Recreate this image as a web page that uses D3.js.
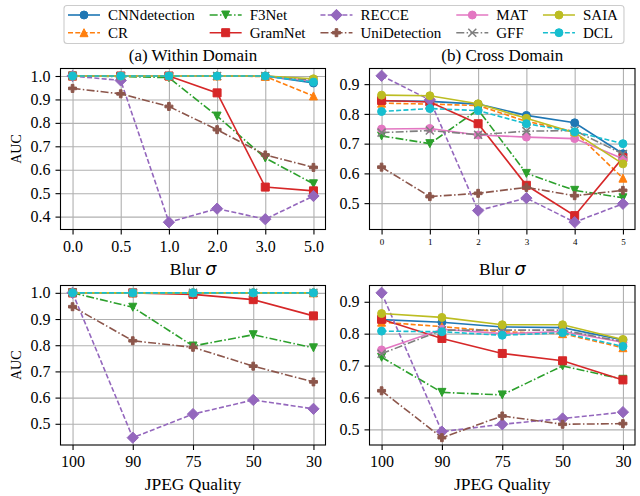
<!DOCTYPE html>
<html>
<head>
<meta charset="utf-8">
<script src="https://cdn.jsdelivr.net/npm/d3@7"></script>
<style>
  body { margin: 0; background: #fff; }
  text { font-family: "Liberation Serif", "Times New Roman", serif; fill: #000; }
</style>
</head>
<body>
<script>

// methods, in legend order
const methods = ['CNNdetection', 'CR', 'F3Net', 'GramNet', 'RECCE', 'UniDetection', 'MAT', 'GFF', 'SAIA', 'DCL'];

// tick labels of the x axes
const blurLabels = ['0.0', '0.5', '1.0', '2.0', '3.0', '5.0'];
const blurLabelsCross = ['0', '1', '2', '3', '4', '5'];
const jpegLabels = ['100', '90', '75', '50', '30'];

// AUC values, one row per method (same order as methods)
const blurWithin = [
  [1.000, 1.000, 1.000, 1.000, 1.000, 0.970],
  [1.000, 1.000, 1.000, 1.000, 0.998, 0.915],
  [1.000, 0.998, 0.993, 0.829, 0.650, 0.540],
  [1.000, 1.000, 1.000, 0.928, 0.526, 0.510],
  [1.000, 0.981, 0.376, 0.434, 0.389, 0.488],
  [0.947, 0.924, 0.870, 0.771, 0.663, 0.610],
  [1.000, 1.000, 1.000, 1.000, 1.000, 0.978],
  [1.000, 1.000, 1.000, 1.000, 1.000, 0.982],
  [1.000, 1.000, 1.000, 1.000, 1.000, 0.988],
  [1.000, 1.000, 1.000, 1.000, 1.000, 0.974]
];

const blurCross = [
  [0.844, 0.842, 0.833, 0.795, 0.770, 0.666],
  [0.836, 0.833, 0.828, 0.775, 0.740, 0.584],
  [0.726, 0.700, 0.814, 0.600, 0.543, 0.518],
  [0.845, 0.840, 0.767, 0.560, 0.458, 0.653],
  [0.928, 0.847, 0.475, 0.517, 0.436, 0.498],
  [0.621, 0.522, 0.533, 0.553, 0.525, 0.543],
  [0.749, 0.751, 0.729, 0.722, 0.717, 0.649],
  [0.737, 0.744, 0.730, 0.742, 0.744, 0.665],
  [0.863, 0.861, 0.834, 0.785, 0.737, 0.632],
  [0.808, 0.818, 0.811, 0.767, 0.740, 0.700]
];

const jpegWithin = [
  [1.000, 1.000, 1.000, 1.000, 1.000],
  [1.000, 1.000, 1.000, 1.000, 1.000],
  [1.000, 0.945, 0.797, 0.840, 0.790],
  [1.000, 1.000, 0.994, 0.974, 0.912],
  [1.000, 0.447, 0.537, 0.591, 0.557],
  [0.947, 0.817, 0.792, 0.720, 0.660],
  [1.000, 1.000, 1.000, 1.000, 1.000],
  [1.000, 1.000, 1.000, 1.000, 1.000],
  [1.000, 1.000, 1.000, 1.000, 1.000],
  [1.000, 1.000, 1.000, 1.000, 1.000]
];

const jpegCross = [
  [0.844, 0.836, 0.821, 0.819, 0.780],
  [0.836, 0.822, 0.806, 0.800, 0.756],
  [0.726, 0.616, 0.608, 0.699, 0.657],
  [0.845, 0.785, 0.738, 0.715, 0.655],
  [0.928, 0.493, 0.516, 0.534, 0.554],
  [0.621, 0.474, 0.542, 0.516, 0.518],
  [0.749, 0.814, 0.800, 0.807, 0.773],
  [0.737, 0.811, 0.811, 0.811, 0.775],
  [0.863, 0.851, 0.828, 0.828, 0.782],
  [0.808, 0.806, 0.795, 0.803, 0.760]
];

// line styles per method
const colors = ['#1f77b4', '#ff7f0e', '#2ca02c', '#d62728', '#9467bd', '#8c564b', '#e377c2', '#7f7f7f', '#bcbd22', '#17becf'];
const DASHED = '5,2.3';
const DASHDOT = '8,2.3,1.5,2.3';
const dashes = [null, DASHED, DASHDOT, null, DASHED, DASHDOT, null, DASHDOT, null, DASHED];

// marker shapes, drawn like matplotlib's, size = marker width in px
const shapes = {
  circle: {draw(ctx, s) { const r = s / 2; ctx.moveTo(r, 0); ctx.arc(0, 0, r, 0, 2 * Math.PI); }},
  up: {draw(ctx, s) { const h = s / 2; ctx.moveTo(0, -h); ctx.lineTo(h, h); ctx.lineTo(-h, h); ctx.closePath(); }},
  down: {draw(ctx, s) { const h = s / 2; ctx.moveTo(0, h); ctx.lineTo(h, -h); ctx.lineTo(-h, -h); ctx.closePath(); }},
  square: {draw(ctx, s) { const h = s / 2; ctx.rect(-h, -h, s, s); }},
  diamond: {draw(ctx, s) { const h = s * 0.707; ctx.moveTo(0, -h); ctx.lineTo(h, 0); ctx.lineTo(0, h); ctx.lineTo(-h, 0); ctx.closePath(); }},
  plus: {draw(ctx, s) {
    const a = s / 2, b = s / 6;
    ctx.moveTo(-b, -a); ctx.lineTo(b, -a); ctx.lineTo(b, -b); ctx.lineTo(a, -b); ctx.lineTo(a, b);
    ctx.lineTo(b, b); ctx.lineTo(b, a); ctx.lineTo(-b, a); ctx.lineTo(-b, b); ctx.lineTo(-a, b);
    ctx.lineTo(-a, -b); ctx.lineTo(-b, -b); ctx.closePath();
  }},
  cross: {draw(ctx, s) { const h = s / 2; ctx.moveTo(-h, -h); ctx.lineTo(h, h); ctx.moveTo(-h, h); ctx.lineTo(h, -h); }}
};
const markers = ['circle', 'up', 'down', 'square', 'diamond', 'plus', 'circle', 'cross', 'circle', 'circle'];
const MS = 8;

const svg = d3.select('body')
              .append('svg')
              .attr('width', 640)
              .attr('height', 496);

// draw one marker of method i into a selection
function addMarker(sel, i, cx, cy) {
  const isCross = markers[i] === 'cross';
  sel.append('path')
     .attr('d', d3.symbol().type(shapes[markers[i]]).size(MS)())
     .attr('transform', 'translate(' + cx + ',' + cy + ')')
     .attr('fill', isCross ? 'none' : colors[i])
     .attr('stroke', colors[i])
     .attr('stroke-width', isCross ? 1.5 : 1);
}

// one subplot
function drawPanel(p) {
  const n = p.labels.length;
  const x = d3.scalePoint()
              .domain(d3.range(n))
              .range([p.left, p.right])
              .padding(0.05 * (n - 1));
  const y = d3.scaleLinear()
              .domain(p.yDomain)
              .range([p.bottom, p.top]);

  const g = svg.append('g');

  // grid lines
  g.append('g')
   .attr('transform', 'translate(0,' + p.bottom + ')')
   .call(d3.axisBottom(x).tickSize(-(p.bottom - p.top)).tickFormat(''))
   .call(a => a.select('.domain').remove())
   .selectAll('line').attr('stroke', '#b0b0b0').attr('stroke-width', 1.1);
  g.append('g')
   .attr('transform', 'translate(' + p.left + ',0)')
   .call(d3.axisLeft(y).tickValues(p.yTicks).tickSize(-(p.right - p.left)).tickFormat(''))
   .call(a => a.select('.domain').remove())
   .selectAll('line').attr('stroke', '#b0b0b0').attr('stroke-width', 1.1);

  // lines and markers
  const line = d3.line().x((d, j) => x(j)).y(d => y(d));
  p.values.forEach((row, i) => {
    g.append('path')
     .attr('d', line(row))
     .attr('fill', 'none')
     .attr('stroke', colors[i])
     .attr('stroke-width', 1.6)
     .attr('stroke-dasharray', dashes[i]);
    const mg = g.append('g');
    row.forEach((v, j) => addMarker(mg, i, x(j), y(v)));
  });

  // axes
  const xAxis = g.append('g')
                 .attr('transform', 'translate(0,' + p.bottom + ')')
                 .call(d3.axisBottom(x).tickSize(5).tickPadding(p.smallX ? 4 : 6).tickFormat(j => p.labels[j]));
  xAxis.selectAll('text').style('font-size', p.smallX ? '9px' : '16px');
  const yAxis = g.append('g')
                 .attr('transform', 'translate(' + p.left + ',0)')
                 .call(d3.axisLeft(y).tickValues(p.yTicks).tickSize(5).tickPadding(5).tickFormat(d3.format('.1f')));
  yAxis.selectAll('text').style('font-size', '16px');
  g.selectAll('.domain').remove();
  g.selectAll('.tick line').attr('stroke-width', 1.1);

  // frame
  g.append('rect')
   .attr('x', p.left).attr('y', p.top)
   .attr('width', p.right - p.left).attr('height', p.bottom - p.top)
   .attr('fill', 'none').attr('stroke', '#000').attr('stroke-width', 1.1);

  // x label
  const xl = g.append('text')
              .attr('x', (p.left + p.right) / 2)
              .attr('y', p.bottom + 45)
              .attr('text-anchor', 'middle')
              .style('font-size', '17.5px')
              .text(p.xLabel);
  if (p.sigma) {
    xl.append('tspan')
      .style('font-family', '"DejaVu Sans", sans-serif')
      .style('font-style', 'italic')
      .text('σ');
  }

  // y label
  if (p.yLabel) {
    g.append('text')
     .attr('transform', 'translate(21,' + ((p.top + p.bottom) / 2) + ') rotate(-90)')
     .attr('text-anchor', 'middle')
     .style('font-size', '14px')
     .text(p.yLabel);
  }

  // title
  if (p.title) {
    g.append('text')
     .attr('x', (p.left + p.right) / 2)
     .attr('y', p.top - 7.5)
     .attr('text-anchor', 'middle')
     .style('font-size', '17px')
     .text(p.title);
  }
}

const LEFT = [60.5, 325.5];
const RIGHT = [369.5, 635];
const TOP = [68.5, 229.5];
const BOTTOM = [285.5, 445];

drawPanel({values: blurWithin, labels: blurLabels, left: LEFT[0], right: LEFT[1], top: TOP[0], bottom: TOP[1],
           yDomain: [0.345, 1.032], yTicks: [0.4, 0.5, 0.6, 0.7, 0.8, 0.9, 1.0],
           xLabel: 'Blur ', sigma: true, yLabel: 'AUC', title: '(a) Within Domain'});
drawPanel({values: blurCross, labels: blurLabelsCross, left: RIGHT[0], right: RIGHT[1], top: TOP[0], bottom: TOP[1],
           yDomain: [0.4114, 0.9526], yTicks: [0.5, 0.6, 0.7, 0.8, 0.9], smallX: true,
           xLabel: 'Blur ', sigma: true, title: '(b) Cross Domain'});
drawPanel({values: jpegWithin, labels: jpegLabels, left: LEFT[0], right: LEFT[1], top: BOTTOM[0], bottom: BOTTOM[1],
           yDomain: [0.419, 1.028], yTicks: [0.5, 0.6, 0.7, 0.8, 0.9, 1.0],
           xLabel: 'JPEG Quality', yLabel: 'AUC'});
drawPanel({values: jpegCross, labels: jpegLabels, left: RIGHT[0], right: RIGHT[1], top: BOTTOM[0], bottom: BOTTOM[1],
           yDomain: [0.451, 0.951], yTicks: [0.5, 0.6, 0.7, 0.8, 0.9],
           xLabel: 'JPEG Quality'});

// legend, 5 columns of 2 rows
const legend = svg.append('g');
const box = legend.append('rect');
const rows = [15, 32.7];
let colX = 68;
for (let c = 0; c < 5; c++) {
  let maxW = 0;
  for (let r = 0; r < 2; r++) {
    const i = c * 2 + r;
    legend.append('line')
          .attr('x1', colX).attr('x2', colX + 32)
          .attr('y1', rows[r]).attr('y2', rows[r])
          .attr('stroke', colors[i])
          .attr('stroke-width', 1.6)
          .attr('stroke-dasharray', dashes[i]);
    addMarker(legend, i, colX + 16, rows[r]);
    const t = legend.append('text')
                    .attr('x', colX + 40)
                    .attr('y', rows[r] + 5)
                    .style('font-size', '15px')
                    .text(methods[i]);
    maxW = Math.max(maxW, t.node().getComputedTextLength());
  }
  colX = colX + 40 + maxW + 15;
}
box.attr('x', 64).attr('y', 5.5)
   .attr('width', colX - 15 + 6 - 64).attr('height', 38)
   .attr('rx', 3)
   .attr('fill', '#fff')
   .attr('stroke', '#cccccc')
   .attr('stroke-width', 1.1);

</script>
</body>
</html>
